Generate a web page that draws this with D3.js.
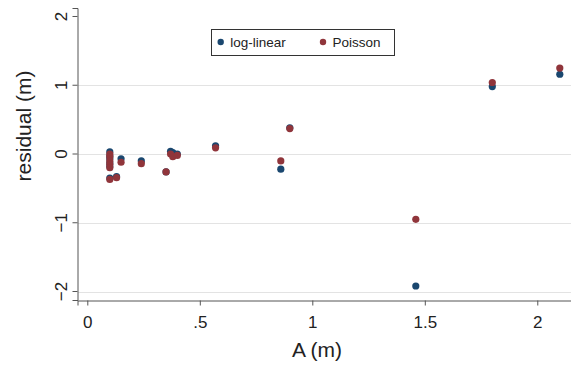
<!DOCTYPE html>
<html>
<head>
<meta charset="utf-8">
<script src="https://cdn.jsdelivr.net/npm/d3@7"></script>
<style>
  body { margin: 0; background: #fff; }
  svg { display: block; font-family: "Liberation Sans", Arial, sans-serif; }
</style>
</head>
<body>
<svg id="chart" width="571" height="365"></svg>
<script>
// A (m) for each observation
var area = [0.10, 0.10, 0.10, 0.10, 0.10, 0.10, 0.13, 0.15, 0.24, 0.35,
            0.37, 0.38, 0.40, 0.57, 0.86, 0.90, 1.46, 1.80, 2.10];
// residuals, log-linear model
var logLinear = [0.03, -0.03, -0.07, -0.13, -0.18, -0.35, -0.33, -0.07, -0.10, -0.26,
                 0.04, 0.02, 0.00, 0.12, -0.22, 0.38, -1.92, 0.98, 1.16];
// residuals, Poisson model
var poisson = [0.00, -0.04, -0.10, -0.15, -0.20, -0.37, -0.345, -0.12, -0.14, -0.26,
               0.00, -0.04, -0.02, 0.09, -0.10, 0.37, -0.95, 1.04, 1.25];

var xTicks = [0, 0.5, 1, 1.5, 2];
var xTickLabels = ['0', '.5', '1', '1.5', '2'];
var yTicks = [-2, -1, 0, 1, 2];
var yTickLabels = ['\u22122', '\u22121', '0', '1', '2'];
var gridValues = [-2, -1, 0, 1];

var seriesNames = ['log-linear', 'Poisson'];
var seriesColors = ['#1a476f', '#90353b'];

var svg = d3.select('#chart');

var x = d3.scaleLinear().domain([-0.0436, 2.1498]).range([77.5, 571]);
var y = d3.scaleLinear().domain([-2.1236, 2.1236]).range([300, 8]);

// gridlines
svg.append('g').selectAll('line')
  .data(gridValues)
  .enter().append('line')
  .attr('x1', 78).attr('x2', 571)
  .attr('y1', function(d) { return Math.round(y(d)) + 0.5; })
  .attr('y2', function(d) { return Math.round(y(d)) + 0.5; })
  .attr('stroke', '#e3e3e3')
  .attr('stroke-width', 1.2);

// y axis
var yAxis = svg.append('g')
  .attr('transform', 'translate(77.5,0)')
  .call(d3.axisLeft(y).tickValues(yTicks).tickSizeOuter(0).tickSize(5)
    .tickFormat(function(d, i) { return yTickLabels[i]; }));
yAxis.selectAll('path, line').attr('stroke', '#555');
yAxis.selectAll('text')
  .attr('transform', function(d) { return 'translate(-10.5,' + y(d) + ') rotate(-90)'; })
  .attr('x', 0).attr('y', 0).attr('dy', 0)
  .attr('text-anchor', 'middle')
  .attr('font-size', 17).attr('fill', '#222')
  .attr('font-family', '"Liberation Sans", Arial, sans-serif');
yAxis.selectAll('.tick').attr('transform', null);
yAxis.selectAll('.tick line')
  .attr('y1', function(d) { return y(d); })
  .attr('y2', function(d) { return y(d); });

// x axis
var xAxis = svg.append('g')
  .attr('transform', 'translate(0,300.5)')
  .call(d3.axisBottom(x).tickValues(xTicks).tickSizeOuter(0).tickSize(5)
    .tickFormat(function(d, i) { return xTickLabels[i]; }));
xAxis.selectAll('path, line').attr('stroke', '#555');
xAxis.selectAll('text')
  .attr('y', 0).attr('dy', 0)
  .attr('transform', 'translate(0,27.5)')
  .attr('font-size', 17).attr('fill', '#222')
  .attr('font-family', '"Liberation Sans", Arial, sans-serif');

// axis titles
svg.append('text')
  .attr('x', 317).attr('y', 357)
  .attr('text-anchor', 'middle')
  .attr('font-size', 21).attr('fill', '#222')
  .text('A (m)');
svg.append('text')
  .attr('transform', 'translate(31,126) rotate(-90)')
  .attr('text-anchor', 'middle')
  .attr('font-size', 21).attr('fill', '#222')
  .text('residual (m)');

// points: log-linear first, Poisson on top
[logLinear, poisson].forEach(function(vals, s) {
  svg.append('g').selectAll('circle')
    .data(vals)
    .enter().append('circle')
    .attr('cx', function(d, i) { return x(area[i]); })
    .attr('cy', function(d) { return y(d); })
    .attr('r', 3.6)
    .attr('fill', seriesColors[s]);
});

// legend
var legend = svg.append('g');
legend.append('rect')
  .attr('x', 211.5).attr('y', 29.5)
  .attr('width', 183).attr('height', 26)
  .attr('fill', '#fff').attr('stroke', '#333').attr('stroke-width', 1);
var legendX = [220.7, 323];
seriesNames.forEach(function(name, i) {
  legend.append('circle')
    .attr('cx', legendX[i]).attr('cy', 42)
    .attr('r', 3.2)
    .attr('fill', seriesColors[i]);
  legend.append('text')
    .attr('x', legendX[i] + 9.5).attr('y', 47)
    .attr('font-size', 13.5).attr('fill', '#222')
    .text(name);
});
</script>
</body>
</html>
